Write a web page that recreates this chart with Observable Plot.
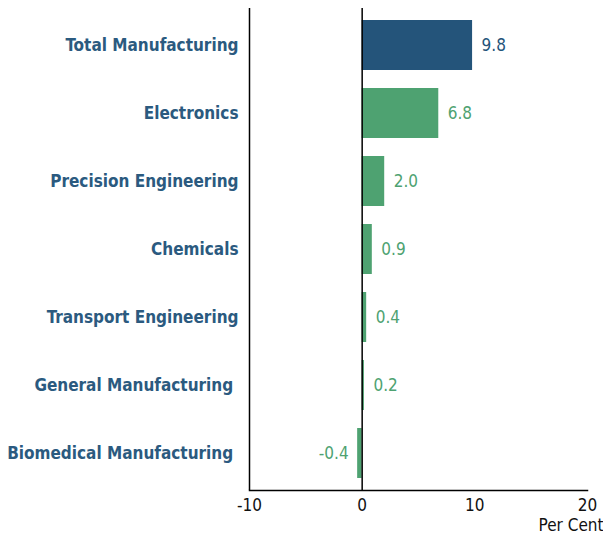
<!DOCTYPE html>
<html><head><meta charset="utf-8">
<script src="https://cdn.jsdelivr.net/npm/d3@7"></script>
<script src="https://cdn.jsdelivr.net/npm/@observablehq/plot@0.6"></script>
<style>body{margin:0;background:#fff}</style>
</head><body><div id="chart"></div>
<script>
const categories = ["Total Manufacturing","Electronics","Precision Engineering","Chemicals","Transport Engineering","General Manufacturing\u00a0","Biomedical Manufacturing\u00a0"];
const values = [9.8, 6.8, 2.0, 0.9, 0.4, 0.2, -0.4];
const xTicks = [-10, 0, 10, 20];
const xLabel = "Per Cent";
const blue = "#24547a", green = "#4ea271", labelBlue = "#2b5a7f";
const data = categories.map((c, i) => ({cat: c, v: values[i], color: i === 0 ? blue : green}));
const font = "'DejaVu Sans Condensed', 'DejaVu Sans', sans-serif";
const chart = Plot.plot({
  width: 603, height: 537,
  marginLeft: 249, marginRight: 16, marginTop: 8, marginBottom: 47,
  style: {fontFamily: font, background: "#fff"},
  x: {domain: [-10, 20], ticks: xTicks, label: null},
  y: {domain: categories, paddingInner: 0.27, paddingOuter: 0.135, label: null},
  marks: [
    Plot.barX(data, {y: "cat", x: "v", fill: d => d.color}),
    Plot.ruleX([0], {stroke: "#000", strokeWidth: 1.5}),
    Plot.ruleX([-10], {stroke: "#000", strokeWidth: 1.5}),
    Plot.frame({anchor: "bottom", stroke: "#000", strokeWidth: 1.5}),
    Plot.text(data.filter(d => d.v >= 0), {y: "cat", x: "v", text: d => d.v.toFixed(1), fill: d => d.color,
      textAnchor: "start", dx: 9, fontSize: 17}),
    Plot.text(data.filter(d => d.v < 0), {y: "cat", x: "v", text: d => d.v.toFixed(1), fill: d => d.color,
      textAnchor: "end", dx: -9, fontSize: 17}),
    Plot.text([xLabel], {frameAnchor: "bottom-right", textAnchor: "end", dx: 16, dy: 40, fontSize: 17, fill: "#111"}),
    Plot.axisY({tickSize: 0, tickPadding: 11, fontSize: 17, fontWeight: "bold", fill: labelBlue, label: null}),
    Plot.axisX(xTicks, {tickSize: 0, tickPadding: 8, fontSize: 17, fill: "#111", label: null, tickFormat: d => `${d}`})
  ]
});
document.getElementById("chart").appendChild(chart);
</script>
</body></html>
